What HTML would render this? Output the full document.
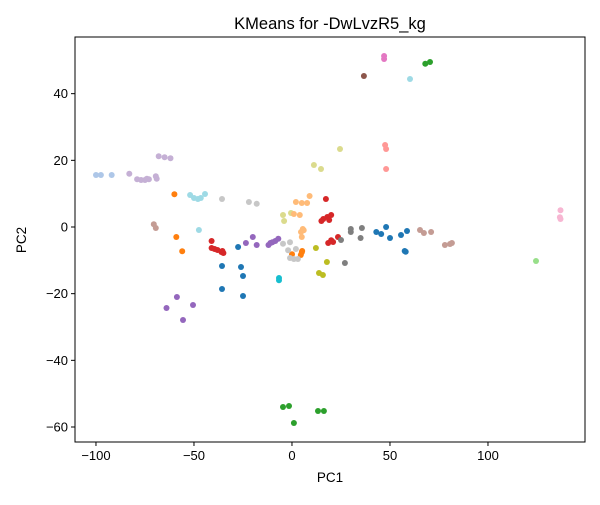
<!DOCTYPE html>
<html><head><meta charset="utf-8">
<style>
body{margin:0;background:#fff;}
svg text{font-family:"Liberation Sans","DejaVu Sans",sans-serif;fill:#000;}
</style></head>
<body>
<svg id="chart" width="600" height="500" xmlns="http://www.w3.org/2000/svg">
<rect width="600" height="500" fill="#fff"/>
<text x="330" y="29" font-size="16.5" text-anchor="middle">KMeans for -DwLvzR5_kg</text>
<g id="points"></g>
<rect x="75" y="37" width="510" height="405" fill="none" stroke="#000" stroke-width="1"/>
<g id="xticks"></g>
<g id="yticks"></g>
<text x="330" y="482" font-size="13.5" text-anchor="middle">PC1</text>
<text x="26" y="240" font-size="13.5" text-anchor="middle" transform="rotate(-90 26 240)">PC2</text>
</svg>
<script>
const xTicks = [-100, -50, 0, 50, 100];
const yTicks = [-60, -40, -20, 0, 20, 40];
const palette = ["#1f77b4","#aec7e8","#ff7f0e","#ffbb78","#2ca02c","#98df8a","#d62728","#ff9896","#9467bd","#c5b0d5","#8c564b","#c49c94","#e377c2","#f7b6d2","#7f7f7f","#c7c7c7","#bcbd22","#dbdb8d","#17becf","#9edae5"];
const pcx = [-100,-97.5,-92, -83,-79,-77,-75,-73,-74,-69,-69.5,-68,-65,-62, -70.5,-69.5, -60,-59,-56,0,4.5,5,5.2, -52,-50,-48,-46.5,-44.4,-47.5,60.2, -35.7,-22,-18,-4.6,-1,-2,2,3,-1,1, -41,-41,-39.5,-38,-36,-35,-35.5,17.3,15,16,18,20,19,20,21,18.5,23.5, -35.7,-35.7,-27.5,-26,-25,-25,43,45.5,48,50,55.6,58.7,57.5,58, -23.5,-20,-18,-12,-11,-10,-8.5,-7,-64,-58.7,-50.5,-55.6, -6.6,-6.6, -4.6,-4,-0.5,11.2,14.8,24.5, 2,5,7.7,9,1,4,4.6,5.5,6,5, 12.2,17.8,13.8,15.8, 30,30,35.7,35,25,27, 36.7, 65.3,67.3,71,78,80.6,81.6, 137,136.7,137, 124.5, 47,47, 47.5,48,48, 68,70.4,-4.6,-1.5,1,13.3,16.3];
const pcy = [15.6,15.6,15.6, 16,14.3,14.1,14.1,14.3,14.5,14.5,15.2,21.2,20.9,20.6, 0.8,-0.3, 9.8,-3,-7.3,-8.2,-8.4,-7.6,-7.2, 9.6,8.7,8.4,8.7,9.9,-0.9,44.4, 8.4,7.5,7,-5,-4.6,-7,-6.6,-9.6,-9.3,-9.6, -4.2,-6.3,-6.6,-6.9,-7.5,-7.8,-7.2,8.4,1.8,2.4,3,3.6,2.1,-4,-4.5,-4.8,-3, -11.7,-18.6,-6,-12,-14.7,-20.7,-1.5,-2.1,0,-3.3,-2.4,-1.2,-7.2,-7.4, -4.8,-3,-5.4,-5.4,-4.8,-4.6,-4.2,-3.5,-24.3,-21,-23.4,-27.9, -15.3,-16, 3.6,1.8,4.2,18.6,17.4,23.4, 7.5,7.2,7.2,9.3,3.9,3.6,-1.5,-0.6,-1,-3, -6.3,-10.5,-13.8,-14.4, -0.6,-1.5,-0.3,-3.3,-3.9,-10.8, 45.3, -0.9,-1.8,-1.5,-5.4,-5.1,-4.8, 5,2.9,2.4, -10.2, 51.3,50.4, 24.6,23.4,17.4, 49,49.5,-54,-53.7,-58.8,-55.2,-55.2];
const clusters = [1,1,1, 9,9,9,9,9,9,9,9,9,9,9, 11,11, 2,2,2,2,2,2,2, 19,19,19,19,19,19,19, 15,15,15,15,15,15,15,15,15,15, 6,6,6,6,6,6,6,6,6,6,6,6,6,6,6,6,6, 0,0,0,0,0,0,0,0,0,0,0,0,0,0, 8,8,8,8,8,8,8,8,8,8,8,8, 18,18, 17,17,17,17,17,17, 3,3,3,3,3,3,3,3,3,3, 16,16,16,16, 14,14,14,14,14,14, 10, 11,11,11,11,11,11, 13,13,13, 5, 12,12, 7,7,7, 4,4,4,4,4,4,4];

const X0=75, X1=585, Y0=37, Y1=442;
const xmin=-110.7, xmax=149.5, ymin=-64.5, ymax=57;
const sx = v => X0 + (v - xmin) / (xmax - xmin) * (X1 - X0);
const sy = v => Y1 - (v - ymin) / (ymax - ymin) * (Y1 - Y0);
const NS = "http://www.w3.org/2000/svg";
const pg = document.getElementById('points');
pcx.forEach((v, i) => {
  const c = document.createElementNS(NS, 'circle');
  c.setAttribute('cx', sx(v).toFixed(1));
  c.setAttribute('cy', sy(pcy[i]).toFixed(1));
  c.setAttribute('r', '3');
  c.setAttribute('fill', palette[clusters[i]]);
  
  
  pg.appendChild(c);
});
const xg = document.getElementById('xticks');
xTicks.forEach(t => {
  const x = sx(t);
  const l = document.createElementNS(NS, 'line');
  l.setAttribute('x1', x); l.setAttribute('x2', x);
  l.setAttribute('y1', Y1); l.setAttribute('y2', Y1 + 4);
  l.setAttribute('stroke', '#000');
  
  
  xg.appendChild(l);
  const tx = document.createElementNS(NS, 'text');
  tx.setAttribute('x', x); tx.setAttribute('y', Y1 + 18);
  tx.setAttribute('font-size', '13');
  tx.setAttribute('text-anchor', 'middle');
  tx.textContent = t < 0 ? '\u2212' + Math.abs(t) : String(t);
  
  
  xg.appendChild(tx);
});
const yg = document.getElementById('yticks');
yTicks.forEach(t => {
  const y = sy(t);
  const l = document.createElementNS(NS, 'line');
  l.setAttribute('x1', X0 - 4); l.setAttribute('x2', X0);
  l.setAttribute('y1', y); l.setAttribute('y2', y);
  l.setAttribute('stroke', '#000');
  
  
  yg.appendChild(l);
  const tx = document.createElementNS(NS, 'text');
  tx.setAttribute('x', X0 - 7); tx.setAttribute('y', y + 4.5);
  tx.setAttribute('font-size', '13');
  tx.setAttribute('text-anchor', 'end');
  tx.textContent = t < 0 ? '\u2212' + Math.abs(t) : String(t);
  
  
  yg.appendChild(tx);
});
</script>
</body></html>
